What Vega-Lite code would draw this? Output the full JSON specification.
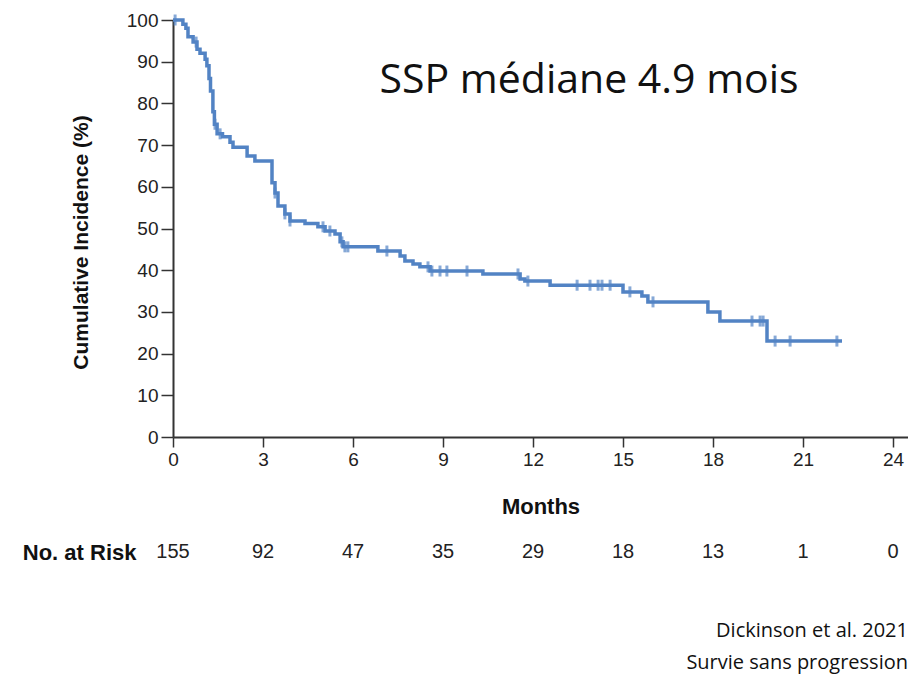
{
  "$schema": "https://vega.github.io/schema/vega-lite/v6.json",
  "background": "white",
  "autosize": {"type": "pad"},
  "padding": {"left": 22, "top": 11, "right": 0, "bottom": 4},
  "bounds": "flush",
  "spacing": 103,
  "config": {
    "view": {"stroke": null},
    "font": "Liberation Sans",
    "title": {"font": "Open Sans"}
  },
  "title": {
    "text": "Dickinson et al. 2021",
    "subtitle": "Survie sans progression",
    "orient": "bottom",
    "anchor": "end",
    "frame": "group",
    "offset": 57,
    "font": "Open Sans",
    "fontSize": 20,
    "fontWeight": "normal",
    "color": "#111111",
    "subtitleFont": "Open Sans",
    "subtitleFontSize": 20,
    "subtitleColor": "#111111",
    "subtitlePadding": 12
  },
  "datasets": {
    "km": [
      {"m": 0, "s": 100}, {"m": 0.33, "s": 99}, {"m": 0.43, "s": 98}, {"m": 0.5, "s": 96},
      {"m": 0.67, "s": 94.7}, {"m": 0.8, "s": 93}, {"m": 0.9, "s": 92}, {"m": 1.07, "s": 90.6},
      {"m": 1.13, "s": 89}, {"m": 1.2, "s": 86}, {"m": 1.25, "s": 83}, {"m": 1.33, "s": 78},
      {"m": 1.38, "s": 75}, {"m": 1.47, "s": 72.7}, {"m": 1.65, "s": 72}, {"m": 1.9, "s": 70.7},
      {"m": 2.0, "s": 69.5}, {"m": 2.47, "s": 67.4}, {"m": 2.73, "s": 66.2}, {"m": 3.3, "s": 61},
      {"m": 3.4, "s": 58.5}, {"m": 3.5, "s": 55.4}, {"m": 3.73, "s": 53.5}, {"m": 3.9, "s": 51.8},
      {"m": 4.4, "s": 51.2}, {"m": 4.83, "s": 50.4}, {"m": 5.07, "s": 49.4}, {"m": 5.4, "s": 48.7},
      {"m": 5.57, "s": 46.8}, {"m": 5.67, "s": 45.6}, {"m": 6.83, "s": 44.6}, {"m": 7.57, "s": 43.4},
      {"m": 7.73, "s": 42.2}, {"m": 8.0, "s": 41.5}, {"m": 8.23, "s": 40.8}, {"m": 8.57, "s": 39.8},
      {"m": 10.33, "s": 39.1}, {"m": 11.57, "s": 37.9}, {"m": 11.73, "s": 37.4}, {"m": 12.57, "s": 36.4},
      {"m": 15.0, "s": 34.8}, {"m": 15.63, "s": 33.8}, {"m": 15.83, "s": 32.4}, {"m": 17.83, "s": 30},
      {"m": 18.23, "s": 27.8}, {"m": 19.8, "s": 23}, {"m": 22.3, "s": 23}
    ],
    "censor": [
      {"m": 0.07, "s": 100}, {"m": 0.77, "s": 94.7}, {"m": 1.4, "s": 75}, {"m": 1.57, "s": 72.7},
      {"m": 3.4, "s": 58.5}, {"m": 3.73, "s": 53.5}, {"m": 3.9, "s": 51.8}, {"m": 5.0, "s": 50.4},
      {"m": 5.23, "s": 49.4}, {"m": 5.63, "s": 46.8}, {"m": 5.73, "s": 45.6}, {"m": 5.83, "s": 45.6},
      {"m": 7.13, "s": 44.6}, {"m": 8.5, "s": 40.8}, {"m": 8.63, "s": 39.8}, {"m": 8.9, "s": 39.8},
      {"m": 9.13, "s": 39.8}, {"m": 9.8, "s": 39.8}, {"m": 11.5, "s": 39.1}, {"m": 11.83, "s": 37.4},
      {"m": 13.47, "s": 36.4}, {"m": 13.9, "s": 36.4}, {"m": 14.17, "s": 36.4}, {"m": 14.3, "s": 36.4},
      {"m": 14.57, "s": 36.4}, {"m": 15.23, "s": 34.8}, {"m": 16.0, "s": 32.4}, {"m": 19.3, "s": 27.8},
      {"m": 19.57, "s": 27.8}, {"m": 19.67, "s": 27.8}, {"m": 20.07, "s": 23}, {"m": 20.57, "s": 23},
      {"m": 22.13, "s": 23}
    ],
    "risk": [
      {"m": 0, "n": 155, "row": "No. at Risk"}, {"m": 3, "n": 92, "row": "No. at Risk"},
      {"m": 6, "n": 47, "row": "No. at Risk"}, {"m": 9, "n": 35, "row": "No. at Risk"},
      {"m": 12, "n": 29, "row": "No. at Risk"}, {"m": 15, "n": 18, "row": "No. at Risk"},
      {"m": 18, "n": 13, "row": "No. at Risk"}, {"m": 21, "n": 1, "row": "No. at Risk"},
      {"m": 24, "n": 0, "row": "No. at Risk"}
    ]
  },
  "vconcat": [
    {
      "width": 735,
      "height": 417,
      "layer": [
        {
          "data": {"name": "km"},
          "mark": {"type": "line", "interpolate": "step-after", "color": "#5283c4", "strokeWidth": 3.5},
          "encoding": {
            "x": {
              "field": "m", "type": "quantitative",
              "scale": {"domain": [0, 24.5], "nice": false, "zero": false},
              "axis": {
                "values": [0, 3, 6, 9, 12, 15, 18, 21, 24],
                "title": "Months",
                "titleFontSize": 22, "titleFontWeight": "bold", "titleColor": "#111111", "titlePadding": 27,
                "labelFontSize": 19, "labelColor": "#222222", "labelPadding": 3,
                "tickSize": 10, "tickColor": "#333333", "tickWidth": 1.5,
                "domainColor": "#333333", "domainWidth": 2, "grid": false,
                "labelFlush": false
              }
            },
            "y": {
              "field": "s", "type": "quantitative",
              "scale": {"domain": [0, 100], "nice": false},
              "axis": {
                "values": [0, 10, 20, 30, 40, 50, 60, 70, 80, 90, 100],
                "title": "Cumulative Incidence (%)",
                "titleFontSize": 21, "titleFontWeight": "bold", "titleColor": "#111111", "titlePadding": 35,
                "titleY": 222,
                "labelFontSize": 19, "labelColor": "#222222", "labelPadding": 3,
                "tickSize": 12, "tickColor": "#333333", "tickWidth": 1.5,
                "domainColor": "#333333", "domainWidth": 2, "grid": false,
                "labelFlush": false
              }
            }
          }
        },
        {
          "data": {"name": "censor"},
          "mark": {"type": "tick", "orient": "vertical", "color": "#5283c4", "thickness": 3, "size": 11},
          "encoding": {
            "x": {"field": "m", "type": "quantitative"},
            "y": {"field": "s", "type": "quantitative"}
          }
        },
        {
          "data": {"values": [{}]},
          "mark": {"type": "text", "text": "SSP médiane 4.9 mois", "font": "Open Sans", "fontSize": 41, "color": "#111111", "align": "center", "baseline": "alphabetic"},
          "encoding": {
            "x": {"datum": 13.87, "type": "quantitative"},
            "y": {"datum": 82.5, "type": "quantitative"}
          }
        }
      ]
    },
    {
      "width": 735,
      "height": 24,
      "data": {"name": "risk"},
      "mark": {"type": "text", "fontSize": 20, "color": "#222222", "baseline": "middle"},
      "encoding": {
        "x": {"field": "m", "type": "quantitative", "scale": {"domain": [0, 24.5], "nice": false}, "axis": null},
        "y": {
          "field": "row", "type": "nominal",
          "axis": {"title": null, "domain": false, "ticks": false, "labelFontSize": 22, "labelFontWeight": "bold", "labelColor": "#111111", "labelPadding": 37}
        },
        "text": {"field": "n", "type": "quantitative"}
      }
    }
  ]
}
